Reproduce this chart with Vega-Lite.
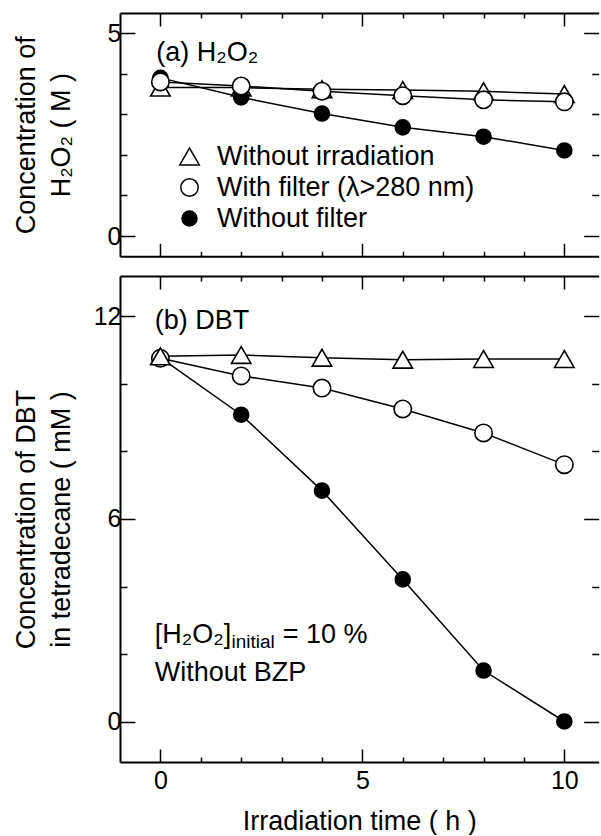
{
  "$schema": "https://vega.github.io/schema/vega-lite/v6.json",
  "padding": {"left": 12, "top": 12, "right": 0, "bottom": 0},
  "background": "white",
  "config": {
    "font": "Liberation Sans",
    "view": {"stroke": null},
    "axis": {"grid": false, "domainColor": "black", "domainWidth": 2, "tickColor": "black", "tickWidth": 1.5, "labelColor": "black", "labelFontSize": 25, "labelFont": "Liberation Sans", "titleFont": "Liberation Sans", "titleFontSize": 27, "titleFontWeight": "normal", "titleColor": "black", "labelPadding": 6}
  },
  "spacing": 17,
  "resolve": {"scale": {"x": "independent", "y": "independent", "fill": "independent", "shape": "independent", "size": "independent"}},
  "vconcat": [
    {
      "width": 478.7,
      "height": 243.3,
      "data": {"values": [
        {"t": 0, "c": 3.66, "s": "Without irradiation"},
        {"t": 2, "c": 3.66, "s": "Without irradiation"},
        {"t": 4, "c": 3.62, "s": "Without irradiation"},
        {"t": 6, "c": 3.6, "s": "Without irradiation"},
        {"t": 8, "c": 3.57, "s": "Without irradiation"},
        {"t": 10, "c": 3.5, "s": "Without irradiation"},
        {"t": 0, "c": 3.9, "s": "Without filter"},
        {"t": 2, "c": 3.42, "s": "Without filter"},
        {"t": 4, "c": 3.02, "s": "Without filter"},
        {"t": 6, "c": 2.68, "s": "Without filter"},
        {"t": 8, "c": 2.45, "s": "Without filter"},
        {"t": 10, "c": 2.11, "s": "Without filter"},
        {"t": 0, "c": 3.8, "s": "With filter (λ>280 nm)"},
        {"t": 2, "c": 3.7, "s": "With filter (λ>280 nm)"},
        {"t": 4, "c": 3.57, "s": "With filter (λ>280 nm)"},
        {"t": 6, "c": 3.46, "s": "With filter (λ>280 nm)"},
        {"t": 8, "c": 3.36, "s": "With filter (λ>280 nm)"},
        {"t": 10, "c": 3.31, "s": "With filter (λ>280 nm)"}
      ]},
      "resolve": {"axis": {"x": "independent", "y": "independent"}},
      "layer": [
        {
          "mark": {"type": "line", "color": "black", "strokeWidth": 1.5},
          "encoding": {
            "x": {"field": "t", "type": "quantitative", "scale": {"domain": [-1, 10.85], "nice": false, "zero": false}, "axis": {"orient": "bottom", "values": [0, 5, 10], "labels": false, "tickSize": -13, "title": null}},
            "y": {"field": "c", "type": "quantitative", "scale": {"domain": [-0.5, 5.5], "nice": false, "zero": false}, "axis": {"orient": "left", "values": [0, 5], "tickSize": -15, "labelPadding": 14, "title": ["Concentration of", "H₂O₂ ( M )"], "titleLineHeight": 35, "titlePadding": 32}},
            "detail": {"field": "s", "type": "nominal"}
          }
        },
        {
          "mark": {"type": "point", "filled": true, "stroke": "black", "strokeWidth": 1.6, "opacity": 1},
          "encoding": {
            "x": {"field": "t", "type": "quantitative", "scale": {"domain": [-1, 10.85], "nice": false, "zero": false}, "axis": {"orient": "bottom", "values": [1, 2, 3, 4, 6, 7, 8, 9], "labels": false, "domain": false, "tickSize": -5, "title": null}},
            "y": {"field": "c", "type": "quantitative", "scale": {"domain": [-0.5, 5.5], "nice": false, "zero": false}, "axis": {"orient": "left", "values": [1, 2, 3, 4], "labels": false, "domain": false, "tickSize": -7, "title": null}},
            "fill": {"field": "s", "type": "nominal", "scale": {"domain": ["Without irradiation", "With filter (λ>280 nm)", "Without filter"], "range": ["white", "white", "black"]}, "legend": {"orient": "none", "legendX": 56, "legendY": 130, "title": null, "labelFontSize": 27, "labelFont": "Liberation Sans", "labelColor": "black", "labelLimit": 400, "rowPadding": 3, "labelOffset": 14, "padding": 0, "encode": {"symbols": {"update": {"stroke": {"value": "black"}, "strokeWidth": {"value": 1.6}}}}}},
            "shape": {"field": "s", "type": "nominal", "scale": {"domain": ["Without irradiation", "With filter (λ>280 nm)", "Without filter"], "range": ["triangle-up", "circle", "circle"]}, "legend": {"orient": "none", "legendX": 56, "legendY": 130, "title": null, "labelFontSize": 27, "labelFont": "Liberation Sans", "labelColor": "black", "labelLimit": 400, "rowPadding": 3, "labelOffset": 14, "padding": 0, "encode": {"symbols": {"update": {"stroke": {"value": "black"}, "strokeWidth": {"value": 1.6}}}}}},
            "size": {"field": "s", "type": "nominal", "scale": {"domain": ["Without irradiation", "With filter (λ>280 nm)", "Without filter"], "range": [380, 225, 225]}, "legend": {"orient": "none", "legendX": 56, "legendY": 130, "title": null, "labelFontSize": 27, "labelFont": "Liberation Sans", "labelColor": "black", "labelLimit": 400, "rowPadding": 3, "labelOffset": 14, "padding": 0, "encode": {"symbols": {"update": {"stroke": {"value": "black"}, "strokeWidth": {"value": 1.6}}}}}}
          }
        },
        {
          "mark": {"type": "point", "opacity": 0},
          "encoding": {
            "x": {"field": "t", "type": "quantitative", "scale": {"domain": [-1, 10.85], "nice": false, "zero": false}, "axis": {"orient": "top", "values": [0, 5, 10], "labels": false, "tickSize": -13, "title": null}},
            "y": {"field": "c", "type": "quantitative", "scale": {"domain": [-0.5, 5.5], "nice": false, "zero": false}, "axis": {"orient": "right", "values": [0, 5], "labels": false, "domain": false, "tickSize": -15, "title": null}}
          }
        },
        {
          "mark": {"type": "point", "opacity": 0},
          "encoding": {
            "x": {"field": "t", "type": "quantitative", "scale": {"domain": [-1, 10.85], "nice": false, "zero": false}, "axis": {"orient": "top", "values": [1, 2, 3, 4, 6, 7, 8, 9], "labels": false, "domain": false, "tickSize": -5, "title": null}},
            "y": {"field": "c", "type": "quantitative", "scale": {"domain": [-0.5, 5.5], "nice": false, "zero": false}, "axis": {"orient": "right", "values": [1, 2, 3, 4], "labels": false, "domain": false, "tickSize": -7, "title": null}}
          }
        },
        {
          "data": {"values": [{"t": -0.1, "c": 4.32, "label": "(a) H₂O₂"}]},
          "mark": {"type": "text", "align": "left", "baseline": "alphabetic", "fontSize": 27, "fill": "black", "font": "Liberation Sans"},
          "encoding": {
            "x": {"field": "t", "type": "quantitative", "scale": {"domain": [-1, 10.85], "nice": false, "zero": false}, "axis": null},
            "y": {"field": "c", "type": "quantitative", "scale": {"domain": [-0.5, 5.5], "nice": false, "zero": false}, "axis": null},
            "text": {"field": "label"}
          }
        }
      ]
    },
    {
      "width": 478.7,
      "height": 486,
      "data": {"values": [
        {"t": 0, "c": 10.78, "s": "Without filter"},
        {"t": 2, "c": 9.09, "s": "Without filter"},
        {"t": 4, "c": 6.84, "s": "Without filter"},
        {"t": 6, "c": 4.21, "s": "Without filter"},
        {"t": 8, "c": 1.51, "s": "Without filter"},
        {"t": 10, "c": 0.0, "s": "Without filter"},
        {"t": 0, "c": 10.76, "s": "With filter (λ>280 nm)"},
        {"t": 2, "c": 10.24, "s": "With filter (λ>280 nm)"},
        {"t": 4, "c": 9.88, "s": "With filter (λ>280 nm)"},
        {"t": 6, "c": 9.26, "s": "With filter (λ>280 nm)"},
        {"t": 8, "c": 8.55, "s": "With filter (λ>280 nm)"},
        {"t": 10, "c": 7.61, "s": "With filter (λ>280 nm)"},
        {"t": 0, "c": 10.82, "s": "Without irradiation"},
        {"t": 2, "c": 10.86, "s": "Without irradiation"},
        {"t": 4, "c": 10.78, "s": "Without irradiation"},
        {"t": 6, "c": 10.72, "s": "Without irradiation"},
        {"t": 8, "c": 10.74, "s": "Without irradiation"},
        {"t": 10, "c": 10.74, "s": "Without irradiation"}
      ]},
      "resolve": {"axis": {"x": "independent", "y": "independent"}},
      "layer": [
        {
          "mark": {"type": "line", "color": "black", "strokeWidth": 1.5},
          "encoding": {
            "x": {"field": "t", "type": "quantitative", "scale": {"domain": [-1, 10.85], "nice": false, "zero": false}, "axis": {"orient": "bottom", "values": [0, 5, 10], "tickSize": -13, "labelPadding": 20, "title": "Irradiation time ( h )", "titlePadding": 15}},
            "y": {"field": "c", "type": "quantitative", "scale": {"domain": [-1.2, 13.2], "nice": false, "zero": false}, "axis": {"orient": "left", "values": [0, 6, 12], "tickSize": -15, "labelPadding": 14, "title": ["Concentration of DBT", "in tetradecane ( mM )"], "titleLineHeight": 35, "titlePadding": 18}},
            "detail": {"field": "s", "type": "nominal"}
          }
        },
        {
          "mark": {"type": "point", "filled": true, "stroke": "black", "strokeWidth": 1.6, "opacity": 1},
          "encoding": {
            "x": {"field": "t", "type": "quantitative", "scale": {"domain": [-1, 10.85], "nice": false, "zero": false}, "axis": {"orient": "bottom", "values": [1, 2, 3, 4, 6, 7, 8, 9], "labels": false, "domain": false, "tickSize": -5, "title": null}},
            "y": {"field": "c", "type": "quantitative", "scale": {"domain": [-1.2, 13.2], "nice": false, "zero": false}, "axis": {"orient": "left", "values": [2, 4, 8, 10], "labels": false, "domain": false, "tickSize": -7, "title": null}},
            "fill": {"field": "s", "type": "nominal", "scale": {"domain": ["Without irradiation", "With filter (λ>280 nm)", "Without filter"], "range": ["white", "white", "black"]}, "legend": null},
            "shape": {"field": "s", "type": "nominal", "scale": {"domain": ["Without irradiation", "With filter (λ>280 nm)", "Without filter"], "range": ["triangle-up", "circle", "circle"]}, "legend": null},
            "size": {"field": "s", "type": "nominal", "scale": {"domain": ["Without irradiation", "With filter (λ>280 nm)", "Without filter"], "range": [380, 225, 225]}, "legend": null}
          }
        },
        {
          "mark": {"type": "point", "opacity": 0},
          "encoding": {
            "x": {"field": "t", "type": "quantitative", "scale": {"domain": [-1, 10.85], "nice": false, "zero": false}, "axis": {"orient": "top", "values": [0, 5, 10], "labels": false, "tickSize": -13, "title": null}},
            "y": {"field": "c", "type": "quantitative", "scale": {"domain": [-1.2, 13.2], "nice": false, "zero": false}, "axis": {"orient": "right", "values": [0, 6, 12], "labels": false, "domain": false, "tickSize": -15, "title": null}}
          }
        },
        {
          "mark": {"type": "point", "opacity": 0},
          "encoding": {
            "x": {"field": "t", "type": "quantitative", "scale": {"domain": [-1, 10.85], "nice": false, "zero": false}, "axis": {"orient": "top", "values": [1, 2, 3, 4, 6, 7, 8, 9], "labels": false, "domain": false, "tickSize": -5, "title": null}},
            "y": {"field": "c", "type": "quantitative", "scale": {"domain": [-1.2, 13.2], "nice": false, "zero": false}, "axis": {"orient": "right", "values": [2, 4, 8, 10], "labels": false, "domain": false, "tickSize": -7, "title": null}}
          }
        },
        {
          "data": {"values": [
            {"t": -0.14, "c": 11.64, "label": "(b) DBT"},
            {"t": -0.14, "c": 2.34, "label": "[H₂O₂]"},
            {"t": 3.03, "c": 2.34, "label": "= 10 %"},
            {"t": -0.14, "c": 1.21, "label": "Without BZP"}
          ]},
          "mark": {"type": "text", "align": "left", "baseline": "alphabetic", "fontSize": 27, "fill": "black", "font": "Liberation Sans"},
          "encoding": {
            "x": {"field": "t", "type": "quantitative", "scale": {"domain": [-1, 10.85], "nice": false, "zero": false}, "axis": null},
            "y": {"field": "c", "type": "quantitative", "scale": {"domain": [-1.2, 13.2], "nice": false, "zero": false}, "axis": null},
            "text": {"field": "label"}
          }
        },
        {
          "data": {"values": [{"t": 1.76, "c": 2.19, "label": "initial"}]},
          "mark": {"type": "text", "align": "left", "baseline": "alphabetic", "fontSize": 19, "fill": "black", "font": "Liberation Sans"},
          "encoding": {
            "x": {"field": "t", "type": "quantitative", "scale": {"domain": [-1, 10.85], "nice": false, "zero": false}, "axis": null},
            "y": {"field": "c", "type": "quantitative", "scale": {"domain": [-1.2, 13.2], "nice": false, "zero": false}, "axis": null},
            "text": {"field": "label"}
          }
        }
      ]
    }
  ]
}
